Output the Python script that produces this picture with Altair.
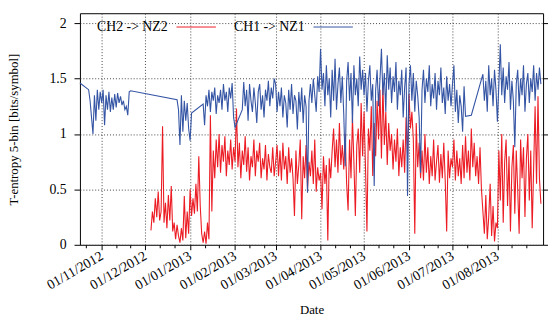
import altair as alt
import pandas as pd

RED = "#ec1c24"
BLUE = "#3454a4"
FONT = "Liberation Serif"

# ---------------- CH1 -> NZ1 (blue), daily readings, runs start on given date
blue_oct17 = [1.46]
blue_oct23 = [1.40, 1.30, 1.15, 1.00, 1.35, 1.12, 1.40, 1.22, 1.38, 1.28,
              1.40, 1.08, 1.35, 1.22, 1.38, 1.20, 1.33, 1.22, 1.36, 1.24,
              1.37, 1.28, 1.34, 1.26, 1.30, 1.22, 1.25, 1.17, 1.38, 1.39]
blue_dec23 = [1.31, 1.22, 0.90, 1.35, 1.02, 1.30, 1.12, 1.28, 1.05, 0.94, 1.19]
blue_jan10 = [1.27, 1.08, 1.35, 1.25, 1.40, 1.20, 1.38, 1.30, 1.42, 1.18,
              1.35, 1.28, 1.40, 1.22, 1.45, 1.30, 1.38, 1.20, 1.42, 1.32,
              1.46, 1.15, 1.06]
blue_feb06 = [1.22, 1.47, 1.25, 1.40, 1.12, 1.45, 1.30, 1.20, 1.42, 1.28,
              1.10, 1.38, 1.45, 1.22, 1.35, 1.15, 1.40, 1.30, 1.48, 1.25,
              1.42, 1.32, 1.50]
blue_mar = [1.45, 1.20, 1.38, 1.25, 1.42, 1.15, 1.35, 1.28, 1.06, 1.40,
            1.22, 1.45, 1.18, 1.35, 1.30, 1.04, 1.38, 1.20, 1.42, 1.10,
            1.35, 1.25, 0.47, 1.30, 1.45, 1.28, 1.50, 1.35, 1.20, 1.52, 1.38]
blue_apr = [1.77, 1.40, 1.55, 1.25, 1.62, 1.35, 1.50, 1.15, 1.58, 1.30,
            1.68, 1.22, 1.45, 1.60, 1.28, 1.52, 1.18, 0.71, 1.48, 1.65,
            1.30, 1.55, 1.10, 1.62, 1.35, 1.50, 1.25, 1.70, 1.40, 1.58]
blue_may = [1.35, 1.55, 1.20, 1.48, 1.62, 1.30, 1.45, 0.53, 1.40, 1.58,
            1.25, 1.50, 1.77, 1.35, 1.55, 1.20, 1.71, 1.40, 1.60, 1.28,
            1.52, 1.38, 1.65, 1.22, 1.48, 1.35, 1.58, 1.15, 1.42, 1.60, 0.44]
blue_jun = [1.45, 1.62, 1.30, 1.55, 1.20, 1.48, 1.35, 1.15, 0.65, 1.40,
            1.58, 1.28, 1.50, 1.38, 1.62, 1.25, 1.45, 1.32, 1.55, 1.22,
            1.48, 1.35, 1.60, 1.28, 1.42, 1.18, 1.52, 1.30, 1.45, 1.25]
blue_jul01 = [1.45, 1.62, 1.20, 1.40, 1.10, 1.35, 1.25, 1.02, 1.43, 1.16]
blue_jul14 = [1.17]
blue_jul22 = [1.54, 1.30, 1.48, 1.20, 1.62, 1.35, 1.50, 1.25, 1.58, 1.40,
              1.11, 1.45, 1.81, 1.35, 1.60, 1.28, 1.52, 1.40, 1.65, 1.22,
              1.48, 1.30, 0.88, 1.45, 1.58, 1.25, 1.50, 1.35, 1.62, 1.20,
              1.45, 1.55, 1.28, 1.50, 1.38, 1.62, 1.30, 1.55, 1.40, 1.60, 1.45]

# ---------------- CH2 -> NZ2 (red)
red_dec05 = [0.13, 0.30, 0.20, 0.42, 0.25, 0.48, 0.22, 0.30, 1.07, 0.20,
             0.38, 0.15, 0.45, 0.22, 0.53, 0.12, 0.20, 0.05, 0.18, 0.08,
             0.02, 0.15, 0.04, 0.44, 0.06, 0.30, 0.10, 0.50, 0.26, 0.42,
             0.28, 0.55, 0.30, 0.80, 0.35, 0.10, 0.02, 0.12, 0.01, 0.20,
             0.05, 1.17, 0.30, 0.85, 0.60, 0.95, 0.70, 1.00, 0.65, 0.90,
             0.75, 0.98, 0.62, 0.85, 0.72, 0.95, 0.68, 0.88]
red_feb = [0.75, 1.23, 0.70, 0.92, 0.60, 0.85, 0.72, 0.98, 0.66, 0.88,
           0.58, 0.80, 0.70, 0.95, 0.62, 0.85, 0.75, 0.92, 0.60, 0.78,
           0.68, 0.90, 0.58, 0.82, 0.70, 0.65, 0.88, 0.62]
red_mar = [0.75, 0.90, 0.62, 0.85, 0.58, 0.92, 0.68, 0.80, 0.55, 0.88,
           0.65, 0.78, 0.60, 0.26, 0.85, 0.55, 0.72, 0.95, 0.23, 0.80,
           0.60, 0.90, 0.50, 0.75, 0.62, 0.85, 0.55, 0.95, 0.48, 0.70, 0.58]
red_apr = [0.65, 0.32, 0.80, 0.55, 0.72, 0.04, 0.78, 0.60, 0.85, 1.05,
           0.70, 0.95, 0.65, 1.10, 0.72, 0.90, 0.68, 1.00, 0.55, 0.31,
           0.95, 0.60, 1.15, 0.75, 0.26, 0.90, 1.05, 0.65, 1.28, 0.80]
red_may = [1.20, 0.70, 0.12, 1.05, 0.85, 1.25, 0.62, 1.10, 0.80, 1.30,
           0.95, 1.40, 0.78, 1.45, 0.90, 1.20, 0.72, 1.10, 0.85, 1.00,
           0.68, 0.95, 0.75, 1.05, 0.62, 0.88, 0.70, 0.95, 0.65, 1.15, 0.80]
red_jun = [1.36, 1.05, 1.20, 0.95, 0.10, 1.10, 0.70, 0.92, 0.60, 0.85,
           0.58, 1.00, 0.65, 0.88, 0.55, 0.80, 0.62, 0.95, 0.58, 0.75,
           0.90, 0.56, 0.82, 0.60, 0.92, 0.58, 0.12, 0.85, 0.60, 0.78]
red_jul = [0.70, 0.95, 0.58, 0.85, 0.62, 0.78, 0.55, 0.90, 0.60, 0.98,
           0.65, 0.85, 0.58, 1.05, 0.70, 0.92, 0.62, 0.80, 0.55, 0.88,
           0.50, 0.30, 0.10, 0.45, 0.05, 0.25, 0.55, 0.08, 0.35, 0.03, 0.20]
red_aug = [0.15, 0.85, 0.40, 1.00, 0.20, 0.75, 0.95, 0.35, 0.80, 0.12,
           0.70, 0.90, 0.28, 0.85, 0.50, 0.10, 0.95, 0.60, 0.88, 0.25,
           0.78, 1.00, 0.40, 0.85, 0.15, 0.70, 1.25, 0.55, 1.34, 0.60, 0.37]

blue_runs = [("2012-10-17", blue_oct17), ("2012-10-23", blue_oct23),
             ("2012-12-23", blue_dec23), ("2013-01-10", blue_jan10),
             ("2013-02-06", blue_feb06), ("2013-03-01", blue_mar),
             ("2013-04-01", blue_apr), ("2013-05-01", blue_may),
             ("2013-06-01", blue_jun), ("2013-07-01", blue_jul01),
             ("2013-07-14", blue_jul14), ("2013-07-22", blue_jul22)]
red_runs = [("2012-12-05", red_dec05), ("2013-02-01", red_feb),
            ("2013-03-01", red_mar), ("2013-04-01", red_apr),
            ("2013-05-01", red_may), ("2013-06-01", red_jun),
            ("2013-07-01", red_jul), ("2013-08-01", red_aug)]

series_names = ["CH2 -> NZ2", "CH1 -> NZ1"]
major_months = [(2012, 11), (2012, 12), (2013, 1), (2013, 2), (2013, 3),
                (2013, 4), (2013, 5), (2013, 6), (2013, 7), (2013, 8)]
minor_days = [11, 21]
y_ticks = [0, 0.5, 1, 1.5, 2]


def build(runs):
    frames = []
    for start, vals in runs:
        frames.append(pd.DataFrame({
            "date": pd.date_range(start, periods=len(vals), freq="D"),
            "value": vals}))
    return pd.concat(frames, ignore_index=True)


red_df = build(red_runs)
blue_df = build(blue_runs)

x_scale = alt.Scale(domain=[alt.DateTime(year=2012, month=10, date=17),
                            alt.DateTime(year=2013, month=9, date=1, hours=12)])
y_scale = alt.Scale(domain=[0, 2.09], nice=False)

major_vals = [alt.DateTime(year=y, month=m, date=1) for y, m in major_months]
minor_vals = [alt.DateTime(year=2012, month=10, date=21)] + [
    alt.DateTime(year=y, month=m, date=d) for y, m in major_months for d in minor_days]

x_major_axis = alt.Axis(values=major_vals, format="%d/%m/%Y", labelAngle=-30,
                        labelAlign="right", labelBaseline="middle", labelPadding=5,
                        tickSize=5, tickColor="black", domain=False,
                        grid=True, gridDash=[1, 2], gridColor="#444", gridOpacity=1,
                        labelFontSize=14, labelColor="black", labelOverlap=False,
                        labelFlush=False, title="Date", titleFontSize=13,
                        titleFontWeight="normal", titleColor="black",
                        titleY=60, titleBaseline="top")
x_minor_axis = alt.Axis(values=minor_vals, orient="bottom", labels=False,
                        tickSize=3, tickColor="black", domain=False, grid=False,
                        title=None)
y_left_axis = alt.Axis(values=y_ticks, format="~g", tickSize=6, tickColor="black",
                       domain=False, grid=True, gridDash=[1, 2], gridColor="#444",
                       gridOpacity=1, labelFontSize=14, labelColor="black",
                       labelPadding=8, title="T-entropy 5-bin [bits/symbol]",
                       titleFontSize=13, titleFontWeight="normal", titleColor="black",
                       titleX=-60, titleY=117.6)
y_right_axis = alt.Axis(values=y_ticks, orient="right", labels=False, tickSize=5,
                        tickColor="black", domain=False, grid=False, title=None)

red_line = alt.Chart(red_df).mark_line(color=RED, strokeWidth=1.1).encode(
    x=alt.X("date:T", scale=x_scale, axis=x_major_axis),
    y=alt.Y("value:Q", scale=y_scale, axis=y_left_axis))
blue_line = alt.Chart(blue_df).mark_line(color=BLUE, strokeWidth=1.1).encode(
    x=alt.X("date:T", scale=x_scale, axis=x_minor_axis),
    y=alt.Y("value:Q", scale=y_scale, axis=y_right_axis))

legend_red_text = alt.Chart(pd.DataFrame({"label": [series_names[0]]})).mark_text(
    align="right", baseline="middle", fontSize=14, font=FONT, color="black").encode(
    text="label:N", x=alt.value(89), y=alt.value(14))
legend_red_line = alt.Chart(pd.DataFrame({"label": [series_names[0]]})).mark_rule(
    color=RED, strokeWidth=1).encode(x=alt.value(98), x2=alt.value(138), y=alt.value(14))
legend_blue_text = alt.Chart(pd.DataFrame({"label": [series_names[1]]})).mark_text(
    align="right", baseline="middle", fontSize=14, font=FONT, color="black").encode(
    text="label:N", x=alt.value(228), y=alt.value(14))
legend_blue_line = alt.Chart(pd.DataFrame({"label": [series_names[1]]})).mark_rule(
    color=BLUE, strokeWidth=1).encode(x=alt.value(237), x2=alt.value(277), y=alt.value(14))

chart = alt.layer(red_line, blue_line, legend_red_text, legend_red_line,
                  legend_blue_text, legend_blue_line).resolve_axis(
    x="independent", y="independent").properties(
    width=470, height=235,
    autosize=alt.AutoSizeParams(type="none"),
    padding={"left": 73, "top": 3, "right": 5, "bottom": 74},
).configure(font=FONT).configure_view(stroke="black", strokeWidth=1)

chart.save("out.html", embed_options={"renderer": "svg", "actions": False})
